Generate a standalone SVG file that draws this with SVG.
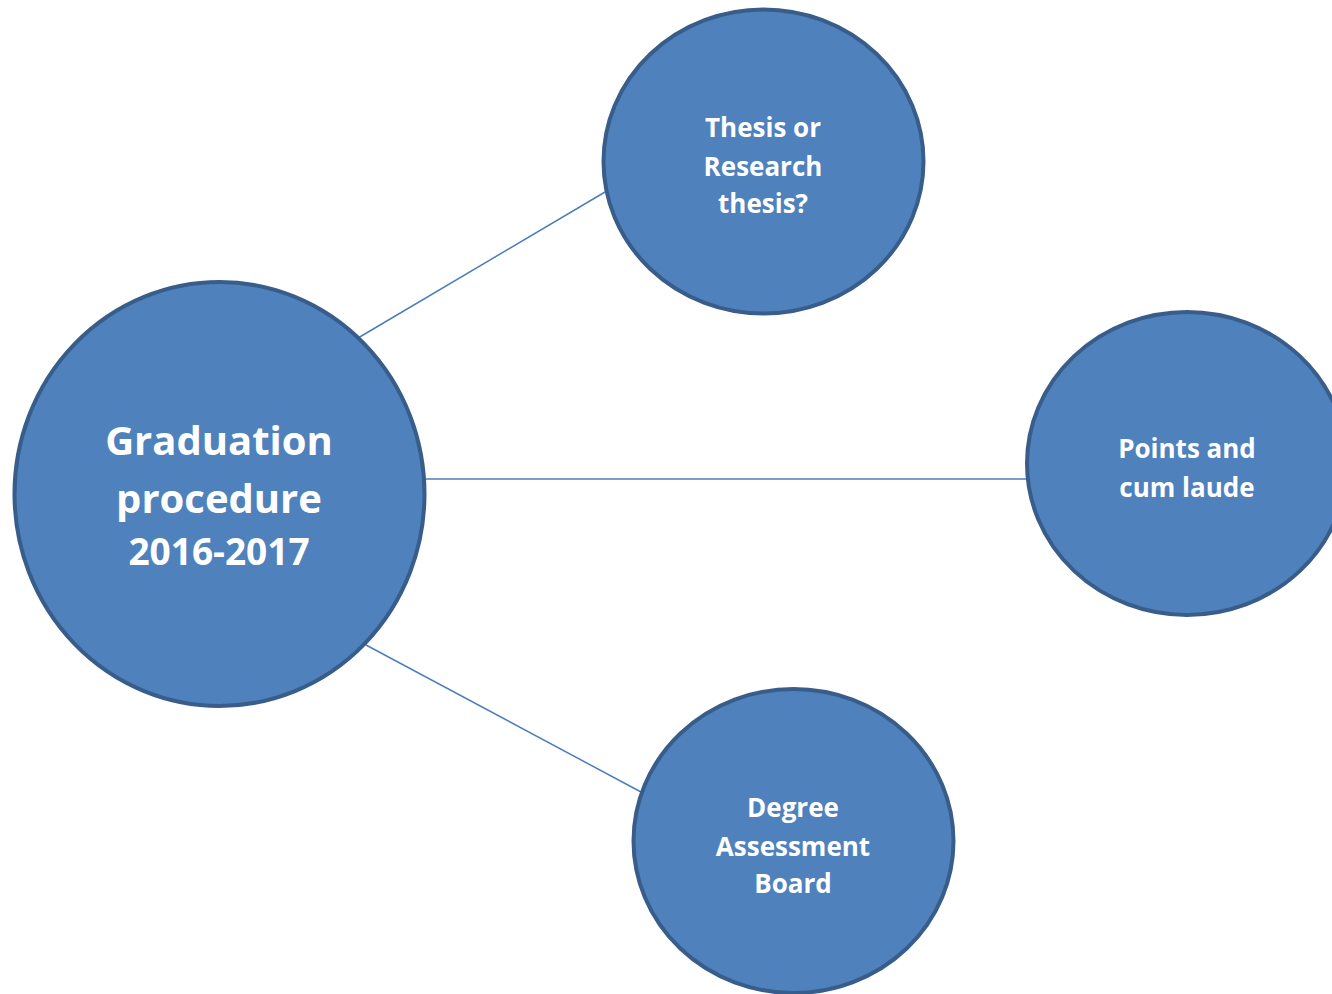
<svg xmlns="http://www.w3.org/2000/svg" width="1332" height="994" viewBox="0 0 1332 994">
<style>
.node{fill:#4F81BD;stroke:#385D8A;stroke-width:4}
.conn{stroke:#4A7EBB;stroke-width:1.5;fill:none}
.t{font-family:"Open Sans","Noto Sans",sans-serif;font-weight:700;fill:#FFFFFF;text-anchor:middle}
.big{font-size:40px}
.mid{font-size:37px}
.small{font-size:26px}
</style>
<rect width="1332" height="994" fill="#FFFFFF"/>
<g id="connectors">
<line class="conn" x1="358" y1="338" x2="605" y2="192"/>
<line class="conn" x1="425" y1="479" x2="1027" y2="479"/>
<line class="conn" x1="366" y1="645" x2="641" y2="792"/>
</g>
<g id="graduation">
<ellipse class="node" cx="219.5" cy="494" rx="205" ry="212"/>
<text class="t big" x="219" y="455">Graduation</text>
<text class="t big" x="219" y="513">procedure</text>
<text class="t mid" x="219" y="565">2016-2017</text>
</g>
<g id="thesis">
<ellipse class="node" cx="763.5" cy="161.5" rx="160" ry="152"/>
<text class="t small" x="763" y="137">Thesis or</text>
<text class="t small" x="763" y="176">Research</text>
<text class="t small" x="763" y="213">thesis?</text>
</g>
<g id="points">
<ellipse class="node" cx="1187" cy="463.5" rx="160" ry="151.5"/>
<text class="t small" x="1187" y="458">Points and</text>
<text class="t small" x="1187" y="497">cum laude</text>
</g>
<g id="degree">
<ellipse class="node" cx="793.5" cy="841" rx="160" ry="152"/>
<text class="t small" x="793" y="817">Degree</text>
<text class="t small" x="793" y="856">Assessment</text>
<text class="t small" x="793" y="893">Board</text>
</g>
</svg>
